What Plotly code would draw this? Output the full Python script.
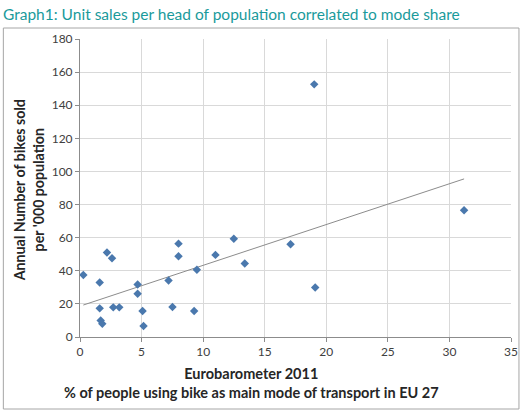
import numpy as np
import plotly.graph_objects as go

# Eurobarometer 2011: % using bike as main mode of transport
mode_share = [0.27, 1.6, 1.6, 1.68, 1.81, 2.19, 2.6, 2.7, 3.19, 4.68, 4.68, 5.08, 5.16,
              7.19, 7.51, 8.0, 8.0, 9.49, 9.27, 11.0, 12.49, 13.38, 19.02, 31.19, 17.1, 19.1]
# Annual number of bikes sold per '000 population
sales_per_1000 = [37.5, 32.9, 17.3, 10.0, 8.0, 51.0, 47.6, 17.9, 17.9, 31.7, 26.1, 15.7, 6.6,
                  34.1, 18.1, 56.4, 48.8, 40.6, 15.7, 49.6, 59.4, 44.4, 152.6, 76.5, 56.0, 29.9]

x_ticks = [0, 5, 10, 15, 20, 25, 30, 35]
y_ticks = [0, 20, 40, 60, 80, 100, 120, 140, 160, 180]

title_text = "Graph1: Unit sales per head of population correlated to mode share"
x_title_lines = ["Eurobarometer 2011", "% of people using bike as main mode of transport in EU 27"]
y_title_lines = ["Annual Number of bikes sold", "per '000 population"]

# Linear trendline (least squares) from the data
slope, intercept = np.polyfit(mode_share, sales_per_1000, 1)
tx = np.array([min(mode_share), max(mode_share)])
ty = slope * tx + intercept

W, H = 530, 413
L, R, T, B = 80, 17, 39, 76
pw, ph = W - L - R, H - T - B

def px_to_paper_x(px):
    return (px - L) / pw

def px_to_paper_y(py):
    return (H - B - py) / ph

fig = go.Figure()
fig.add_trace(go.Scatter(x=tx, y=ty, mode="lines",
                         line=dict(color="#8c8c8c", width=1), hoverinfo="skip",
                         showlegend=False))
fig.add_trace(go.Scatter(x=mode_share, y=sales_per_1000, mode="markers",
                         marker=dict(symbol="diamond", size=6.5, color="#4a78ad"),
                         showlegend=False))

axis_common = dict(showgrid=True, gridcolor="#d9d9d9", gridwidth=1,
                   showline=True, linecolor="#8c8c8c", linewidth=1,
                   ticks="outside", ticklen=4, tickcolor="#8c8c8c",
                   tickfont=dict(family="Lato", size=12, color="#404040"),
                   zeroline=False, fixedrange=True)

fig.update_xaxes(range=[0, 35], tickvals=x_ticks, **axis_common)
fig.update_yaxes(range=[0, 180], tickvals=y_ticks, **axis_common)

def bold_lines(lines):
    return "<br>".join("<b>" + s + "</b>" for s in lines)

fig.update_layout(
    width=W, height=H,
    margin=dict(l=L, r=R, t=T, b=B),
    paper_bgcolor="white", plot_bgcolor="white",
    shapes=[
        dict(type="rect", xref="paper", yref="paper",
             x0=px_to_paper_x(3), x1=px_to_paper_x(521),
             y0=px_to_paper_y(409), y1=px_to_paper_y(28),
             line=dict(color="#a6a6a6", width=1), layer="below"),
    ],
    annotations=[
        dict(text=title_text, xref="paper", yref="paper",
             x=px_to_paper_x(1), y=px_to_paper_y(14), xanchor="left", yanchor="middle",
             showarrow=False, font=dict(family="Lato", size=15.5, color="#1a9a9b")),
        dict(text=bold_lines(x_title_lines), xref="paper", yref="paper",
             x=px_to_paper_x(252), y=px_to_paper_y(383), xanchor="center", yanchor="middle",
             showarrow=False, align="center",
             font=dict(family="Lato", size=14.5, color="#262626")),
        dict(text=bold_lines(y_title_lines), xref="paper", yref="paper",
             x=px_to_paper_x(28), y=px_to_paper_y(190), xanchor="center", yanchor="middle",
             showarrow=False, align="center", textangle=-90,
             font=dict(family="Lato", size=14.2, color="#262626")),
    ],
)

fig.write_html("out.html")
